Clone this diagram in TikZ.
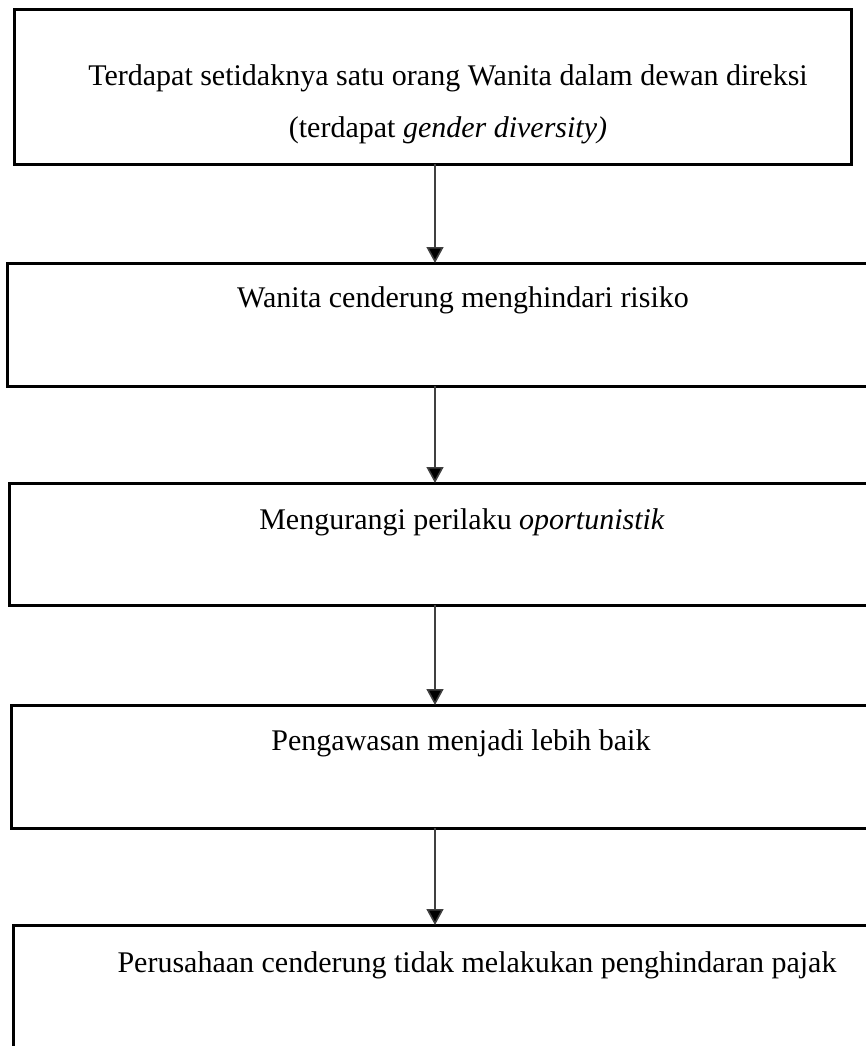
\documentclass[tikz,border=0pt]{standalone}
\usepackage{fontspec}
\setmainfont{Liberation Serif}
\usetikzlibrary{arrows.meta}
\begin{document}
\begin{tikzpicture}[x=1pt,y=-1pt,
  boxframe/.style={draw=black,line width=3pt,fill=none},
  lbl/.style={inner sep=0pt,font=\fontsize{30}{52}\selectfont,anchor=center},
  arr/.style={draw=black!75,line width=1.6pt,-{Triangle[width=17pt,length=16pt,fill=black]}}]
\useasboundingbox (0,0) rectangle (866,1046);
\draw[boxframe] (14,10) rectangle (851,164);
\coordinate (b1s) at (435,164);
\node[lbl] (t1a) at (448,78) {Terdapat setidaknya satu orang Wanita dalam dewan direksi};
\node[lbl] (t1b) at (448,130) {(terdapat \textit{gender diversity)}};
\draw[boxframe] (7,263) rectangle (930,386);
\coordinate (b2n) at (435,263); \coordinate (b2s) at (435,386);
\node[lbl] (t2) at (463,300) {Wanita cenderung menghindari risiko};
\draw[boxframe] (9,483) rectangle (930,605);
\coordinate (b3n) at (435,483); \coordinate (b3s) at (435,605);
\node[lbl] (t3) at (462,522) {Mengurangi perilaku \textit{oportunistik}};
\draw[boxframe] (11,705) rectangle (930,828);
\coordinate (b4n) at (435,705); \coordinate (b4s) at (435,828);
\node[lbl] (t4) at (461,743) {Pengawasan menjadi lebih baik};
\draw[boxframe] (13,925) rectangle (945,1090);
\coordinate (b5n) at (435,925);
\node[lbl] (t5) at (477,965) {Perusahaan cenderung tidak melakukan penghindaran pajak};
\draw[arr] (b1s) -- (b2n);
\draw[arr] (b2s) -- (b3n);
\draw[arr] (b3s) -- (b4n);
\draw[arr] (b4s) -- (b5n);
\end{tikzpicture}
\end{document}
